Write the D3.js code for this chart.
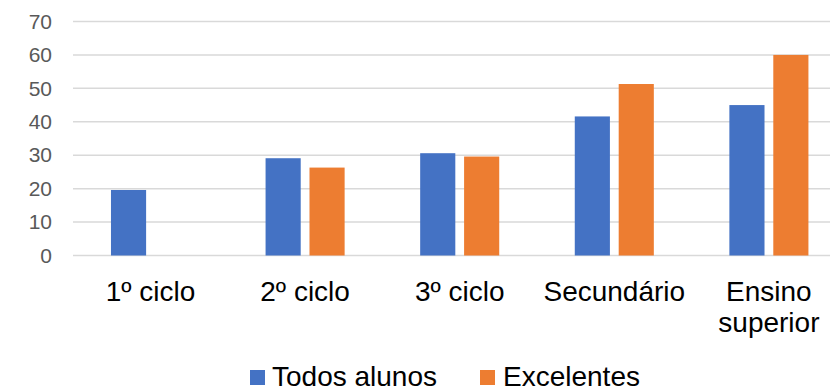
<!DOCTYPE html>
<html>
<head>
<meta charset="utf-8">
<script src="https://cdn.jsdelivr.net/npm/d3@7"></script>
<style>
  html, body { margin: 0; padding: 0; background: #fff; }
  svg { display: block; font-family: "Liberation Sans", Arial, sans-serif; }
</style>
</head>
<body>
<svg id="chart" width="830" height="391"></svg>
<script>
// Percentages by education level
const categories = [["1º ciclo"], ["2º ciclo"], ["3º ciclo"], ["Secundário"], ["Ensino", "superior"]];
const seriesNames = ["Todos alunos", "Excelentes"];
const todosAlunos = [19.6, 29.1, 30.6, 41.6, 45.0];
const excelentes = [null, 26.3, 29.6, 51.3, 60.0];
const yTicks = [0, 10, 20, 30, 40, 50, 60, 70];
const colors = ["#4472c4", "#ed7d31"];

const svg = d3.select("#chart");
const catKeys = categories.map(c => c.join(" "));

const y = d3.scaleLinear().domain([0, 70]).range([255.5, 21.5]);
const x0 = d3.scaleBand().domain(catKeys).range([73.2, 846.2]).paddingInner(0).paddingOuter(0);
const x1 = d3.scaleBand().domain(seriesNames).range([0, x0.bandwidth()])
  .paddingInner(0.2).paddingOuter(0.86);

// Horizontal gridlines
svg.append("g")
  .selectAll("line")
  .data(yTicks)
  .join("line")
  .attr("x1", 73)
  .attr("x2", 830)
  .attr("y1", d => y(d))
  .attr("y2", d => y(d))
  .attr("stroke", "#d9d9d9")
  .attr("stroke-width", 1.5);

// Value axis labels
const yAxis = svg.append("g")
  .attr("transform", "translate(52,0)")
  .call(d3.axisLeft(y).tickValues(yTicks).tickSize(0).tickPadding(0));
yAxis.select(".domain").remove();
yAxis.selectAll("text")
  .attr("fill", "#595959")
  .attr("font-size", "21px")
  .attr("font-family", "'Liberation Sans', Arial, sans-serif");

// Bars
const rows = catKeys.map((k, i) => ({ key: k, values: [todosAlunos[i], excelentes[i]] }));
const groups = svg.append("g")
  .selectAll("g")
  .data(rows)
  .join("g")
  .attr("transform", d => `translate(${x0(d.key)},0)`);

groups.selectAll("rect")
  .data(d => d.values.map((v, j) => ({ name: seriesNames[j], value: v, j }))
    .filter(e => e.value != null))
  .join("rect")
  .attr("x", d => x1(d.name))
  .attr("width", x1.bandwidth())
  .attr("y", d => y(d.value))
  .attr("height", d => y(0) - y(d.value))
  .attr("fill", d => colors[d.j]);

// Category labels
const catLabels = svg.append("g")
  .selectAll("text")
  .data(categories)
  .join("text")
  .attr("x", (d, i) => x0(catKeys[i]) + x0.bandwidth() / 2)
  .attr("y", 301)
  .attr("text-anchor", "middle")
  .attr("font-size", "28px")
  .attr("fill", "#000");
catLabels.selectAll("tspan")
  .data(d => d)
  .join("tspan")
  .attr("x", function () { return d3.select(this.parentNode).attr("x"); })
  .attr("dy", (d, i) => i === 0 ? 0 : 31)
  .text(d => d);

// Legend
const legendX = [250, 480];
const legend = svg.append("g")
  .selectAll("g")
  .data(seriesNames)
  .join("g")
  .attr("transform", (d, i) => `translate(${legendX[i]},0)`);
legend.append("rect")
  .attr("x", 0)
  .attr("y", 370)
  .attr("width", 15)
  .attr("height", 15)
  .attr("fill", (d, i) => colors[i]);
legend.append("text")
  .attr("x", (d, i) => i === 0 ? 22 : 23)
  .attr("y", 386)
  .attr("font-size", "28px")
  .attr("fill", "#000")
  .text(d => d);
</script>
</body>
</html>
